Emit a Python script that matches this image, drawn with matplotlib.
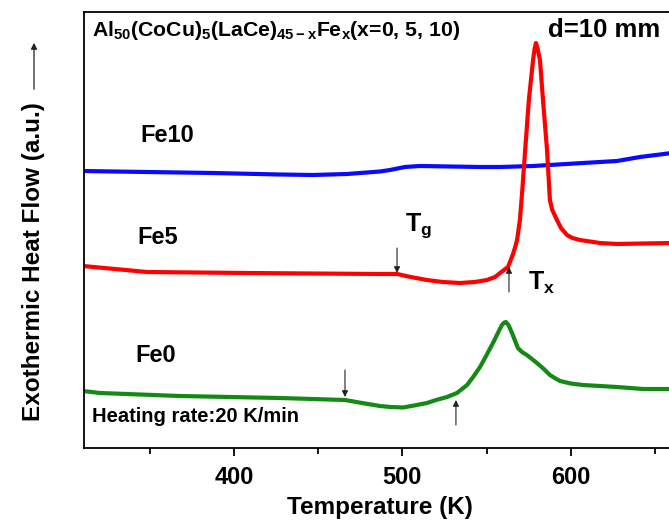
import matplotlib
matplotlib.use('Agg')
import matplotlib.pyplot as plt

plt.rcParams['font.family'] = ['Liberation Sans', 'DejaVu Sans']
plt.rcParams['font.weight'] = 'bold'
plt.rcParams['mathtext.fontset'] = 'custom'
plt.rcParams['mathtext.rm'] = 'Liberation Sans:bold'
plt.rcParams['mathtext.it'] = 'Liberation Sans:bold'
plt.rcParams['mathtext.bf'] = 'Liberation Sans:bold'

# DSC traces (temperature in K, heat flow in arbitrary units)
fe0_T = [310.3, 320.4, 367.9, 427.3, 465.9, 476.0, 486.7, 493.0, 500.4, 507.0, 514.6,
         520.0, 526.5, 532.4, 538.4, 542.0, 546.1, 550.0, 553.8, 557.0, 559.1, 560.5,
         561.5, 563.0, 565.1, 568.6, 571.0, 573.9, 579.9, 584.0, 587.6, 590.5, 593.6,
         600.0, 607.2, 627.4, 642.9, 660.0]
fe0_q = [57, 55, 52, 50, 48, 45, 42, 41, 40.5, 42.5, 45,
         48, 51, 55, 63, 71, 81, 93, 105, 116, 123, 125.5,
         126, 123, 115, 100, 96, 93, 85, 79, 73, 70, 67,
         64.5, 63, 61, 59, 59]

fe5_T = [310.3, 348.3, 407.7, 486.7, 496.8, 505.0, 514.6, 524.0, 534.2, 543.0, 550.2,
         555.0, 558.0, 562.7, 563.9, 565.5, 567.0, 568.1, 569.8, 571.3, 572.7, 575.1,
         577.6, 578.6, 579.3, 580.2, 581.7, 583.5, 585.9, 587.6, 589.0, 591.8, 594.2,
         597.7, 601.0, 605.5, 617.3, 627.4, 660.0]
fe5_q = [182, 176, 175, 174, 174, 171, 168, 166, 165, 166, 168,
         171, 175, 181, 186, 193, 201, 208, 228, 260, 293, 348,
         388, 400, 405, 400, 388, 348, 298, 248, 238, 228, 220,
         213, 210, 208, 205, 204, 205]

fe10_T = [310.3, 348.3, 387.5, 427.3, 446.9, 467.1, 486.7, 492.6, 497.0, 501.5, 510.5,
          528.3, 546.1, 558.0, 577.6, 607.2, 627.4, 641.1, 660.0]
fe10_q = [277, 276, 275, 273.5, 273, 274, 276.5, 278, 279.5, 281, 282,
          281.5, 281, 281, 282, 285, 287, 291, 295]

# onset markers: (temperature, arrow tail, arrow head)
tg_marks = [(496.8, 200, 175), (465.9, 78, 51)]
tx_marks = [(563.3, 156, 181), (531.8, 23, 48)]

fig = plt.figure(figsize=(6.69, 5.21), dpi=100)
ax = fig.add_axes([84 / 669, 73 / 521, 591 / 669, 436 / 521])

line_kw = dict(lw=3.0, solid_capstyle='round', solid_joinstyle='round')
ax.plot(fe10_T, fe10_q, color='#0a0aff', **line_kw)
ax.plot(fe5_T, fe5_q, color='#ff0000', **line_kw)
ax.plot(fe0_T, fe0_q, color='#148a14', **line_kw)

for t, tail, head in tg_marks + tx_marks:
    ax.annotate('', xy=(t, head), xytext=(t, tail),
                arrowprops=dict(arrowstyle='-|>', color='#222222', lw=0.8,
                                mutation_scale=9, shrinkA=0, shrinkB=0))

ax.set_xlim(310.9, 661.9)
ax.set_ylim(0, 436)
ax.set_xticks([400, 500, 600])
ax.set_xticks([350, 450, 550, 650], minor=True)
ax.set_yticks([])
ax.tick_params(axis='x', which='major', direction='out', length=6, width=1.3,
               labelsize=17, pad=7)
ax.tick_params(axis='x', which='minor', direction='out', length=4, width=1.3)
for s in ax.spines.values():
    s.set_linewidth(1.3)
ax.spines['right'].set_visible(False)
ax.set_xlabel('Temperature (K)', fontsize=17.5, fontweight='bold', labelpad=5)

ax.text(315.7, 418, r'Al$_{50}$(CoCu)$_{5}$(LaCe)$_{45-x}$Fe$_{x}$(x=0, 5, 10)',
        fontsize=15.3, va='center', ha='left')
ax.text(586.5, 418, 'd=10 mm', fontsize=18.5, va='center', ha='left')
ax.text(344.2, 313, 'Fe10', fontsize=17, va='center', ha='left')
ax.text(342.4, 211, 'Fe5', fontsize=17, va='center', ha='left')
ax.text(341.2, 93, 'Fe0', fontsize=17, va='center', ha='left')
ax.text(501.5, 222, r'T$_{\mathrm{g}}$', fontsize=18, va='center', ha='left')
ax.text(574.6, 165, r'T$_{\mathrm{x}}$', fontsize=18, va='center', ha='left')
ax.text(315.7, 31, 'Heating rate:20 K/min', fontsize=14.5, va='center', ha='left')

# y label with an upward arrow on top of it
fig.text(34 / 669, 1 - 262 / 521, 'Exothermic Heat Flow (a.u.)', rotation=90,
         fontsize=17.5, ha='center', va='center')
fig.add_artist(matplotlib.patches.FancyArrowPatch(
    (34 / 669, 1 - 92 / 521), (34 / 669, 1 - 40 / 521),
    transform=fig.transFigure, arrowstyle='-|>', mutation_scale=9,
    color='#222222', lw=0.9))

fig.savefig('out.png', dpi=100)
